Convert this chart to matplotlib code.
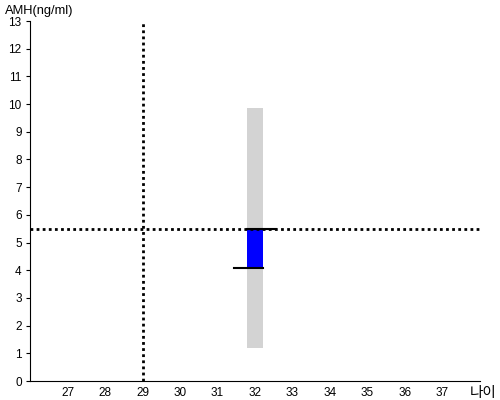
import matplotlib
matplotlib.use("Agg")
import matplotlib.pyplot as plt

plt.rcParams['font.family'] = ['Liberation Sans', 'Noto Sans CJK KR', 'DejaVu Sans']

# data
age = 32
range_low = 1.2
range_high = 9.85
amh_low = 4.08
amh_high = 5.49
ref_age = 29
ref_amh = 5.49
x_ticks = list(range(27, 38))
y_ticks = list(range(0, 14))

fig = plt.figure(figsize=(5, 4), dpi=100)
ax = fig.add_axes([0.06, 0.0475, 0.9, 0.9])

# gray range bar and blue value bar
ax.bar(age, range_high - range_low, bottom=range_low, width=0.42, color='#d3d3d3', zorder=1)
ax.bar(age, amh_high - amh_low, bottom=amh_low, width=0.42, color='#0000ff', zorder=2)
ax.plot([age - 0.21, age + 0.55], [amh_high, amh_high], color='black', lw=1.5, zorder=3)
ax.plot([age - 0.55, age + 0.21], [amh_low, amh_low], color='black', lw=1.5, zorder=3)

# reference cross lines
ax.axhline(ref_amh, color='black', lw=2, ls=(0, (1, 1.2)), zorder=2)
ax.axvline(ref_age, color='black', lw=2, ls=(0, (1, 1.2)), zorder=2)

ax.set_xlim(26, 38)
ax.set_ylim(0, 13)
ax.set_xticks(x_ticks)
ax.set_yticks(y_ticks)
ax.tick_params(axis='x', length=0, pad=4, labelsize=8.5)
ax.tick_params(axis='y', length=3, pad=3, labelsize=8.5)
for s in ['top', 'right']:
    ax.spines[s].set_visible(False)

fig.text(0.01, 0.988, 'AMH(ng/ml)', fontsize=9.3, va='top', ha='left')
fig.text(0.94, 0.0, '나이', fontsize=10.5, va='bottom', ha='left')

fig.savefig('out.png', dpi=100)
